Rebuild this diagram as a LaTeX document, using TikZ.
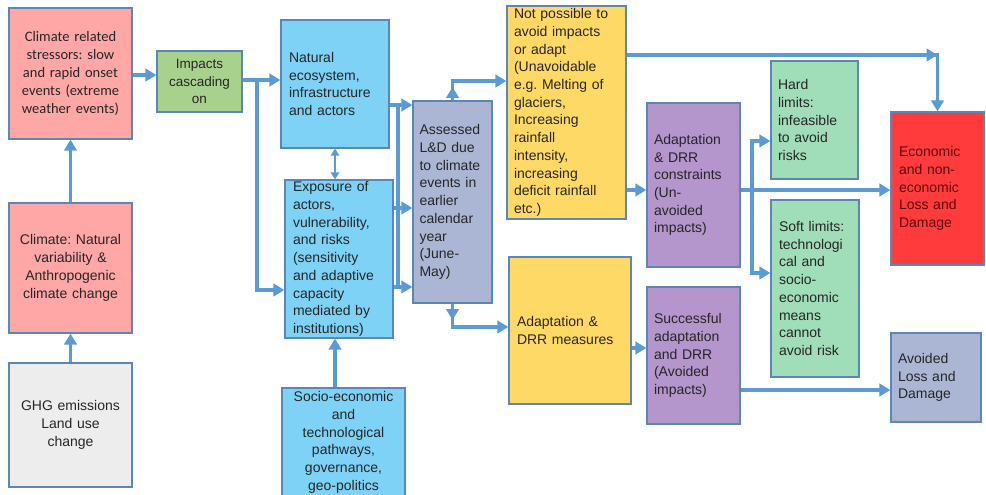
\documentclass[tikz,border=0pt]{standalone}
\usepackage{fontspec}
\setmainfont{Liberation Sans}
\newfontfamily\calibfont{Carlito}
\usetikzlibrary{arrows.meta}
\frenchspacing
\definecolor{pinkc}{HTML}{FFA7A7}
\definecolor{grayc}{HTML}{EDEDED}
\definecolor{greenc}{HTML}{A9D18E}
\definecolor{bluec}{HTML}{7DD2F5}
\definecolor{slatec}{HTML}{ABB6D5}
\definecolor{yellowc}{HTML}{FFD966}
\definecolor{purplec}{HTML}{B495CC}
\definecolor{mintc}{HTML}{A0DDB9}
\definecolor{redc}{HTML}{FF3B3B}
\definecolor{bordc}{HTML}{5B87B8}
\definecolor{arrc}{HTML}{5B9BD5}
\definecolor{txtc}{HTML}{262626}
\definecolor{darkred}{HTML}{5C0A0A}
\begin{document}
\frenchspacing
\begin{tikzpicture}[x=1pt,y=-1pt,
  box/.style={draw=bordc, line width=1.3pt, inner sep=0pt, text=txtc,
    font=\fontsize{14}{17.7}\selectfont},
  arr/.style={draw=arrc, line width=3.6pt, line join=miter, -{Triangle[length=11pt,width=12.5pt]}},
  ln/.style={draw=arrc, line width=3.6pt},
  arrthin/.style={draw=arrc, line width=2.2pt, {Triangle[length=7pt,width=8.5pt]}-{Triangle[length=7pt,width=8.5pt]}},
]
\useasboundingbox (0,0) rectangle (986,495);
\fill[white] (0,0) rectangle (986,495);

% nodes
\node[box, fill=pinkc, minimum width=123pt, minimum height=131pt, text width=115pt, align=center,
  font=\calibfont\fontsize{14.5}{18}\selectfont] (stress) at (70.5,73.5)
  {Climate related\\stressors: slow\\and rapid onset\\events (extreme\\weather events)};
\node[box, fill=pinkc, minimum width=123pt, minimum height=130pt, text width=115pt, align=center,
  font=\fontsize{14}{18}\selectfont] (climate) at (70.5,268)
  {Climate: Natural\\variability \&\\Anthropogenic\\climate change};
\node[box, fill=grayc, minimum width=123pt, minimum height=124pt, text width=115pt, align=center,
  font=\fontsize{14}{18}\selectfont] (ghg) at (70.5,425)
  {GHG emissions\\Land use\\change};
\node[box, fill=greenc, minimum width=85pt, minimum height=61pt, text width=80pt, align=center,
  font=\fontsize{13.5}{17.5}\selectfont] (impacts) at (199.5,81.5)
  {Impacts\\cascading\\on};
\node[box, fill=bluec, minimum width=108pt, minimum height=128pt, text width=92pt, align=left] (natural) at (335,84)
  {Natural\\ecosystem,\\infrastructure\\and actors};
\node[box, fill=bluec, minimum width=108pt, minimum height=158pt, text width=92pt, align=left] (exposure) at (339,259)
  {Exposure of\\actors,\\vulnerability,\\and risks\\(sensitivity\\and adaptive\\capacity\\mediated by\\institutions)};
\node[box, fill=bluec, minimum width=123pt, minimum height=109pt, text width=115pt, align=center] (socio) at (343.5,442.5)
  {Socio-economic\\and\\technological\\pathways,\\governance,\\geo-politics};
\node[box, fill=slatec, minimum width=79pt, minimum height=202pt, text width=66pt, align=left] (assessed) at (452.5,202)
  {Assessed\\L\&D due\\to climate\\events in\\earlier\\calendar\\year\\(June-\\May)};
\node[box, fill=yellowc, minimum width=119pt, minimum height=213pt, text width=105pt, align=left] (notposs) at (566.5,112.5)
  {Not possible to\\avoid impacts\\or adapt\\(Unavoidable\\e.g. Melting of\\glaciers,\\Increasing\\rainfall\\intensity,\\increasing\\deficit rainfall\\etc.)};
\node[box, fill=yellowc, minimum width=122pt, minimum height=147pt, text width=106pt, align=left] (adaptmeas) at (570,330.5)
  {Adaptation \&\\DRR measures};
\node[box, fill=purplec, minimum width=93pt, minimum height=164pt, text width=79pt, align=left] (constraints) at (693.5,185)
  {Adaptation\\\& DRR\\constraints\\(Un-\\avoided\\impacts)};
\node[box, fill=purplec, minimum width=93pt, minimum height=137pt, text width=79pt, align=left] (successful) at (693.5,355.5)
  {Successful\\adaptation\\and DRR\\(Avoided\\impacts)};
\node[box, fill=mintc, minimum width=87pt, minimum height=118pt, text width=73pt, align=left] (hard) at (814.5,120)
  {Hard\\limits:\\infeasible\\to avoid\\risks};
\node[box, fill=mintc, minimum width=88pt, minimum height=177pt, text width=72pt, align=left] (soft) at (815,288.5)
  {Soft limits:\\technologi\\cal and\\socio-\\economic\\means\\cannot\\avoid risk};
\node[box, fill=redc, text=darkred, minimum width=93pt, minimum height=153pt, text width=77pt, align=left] (economic) at (937.5,188.5)
  {Economic\\and non-\\economic\\Loss and\\Damage};
\node[box, fill=slatec, minimum width=90pt, minimum height=89pt, text width=76pt, align=left] (avoided) at (936,377.5)
  {Avoided\\Loss and\\Damage};

% helper coordinates
\coordinate (h75) at (0,75);
\coordinate (jA) at (257,80);
\coordinate (jB) at (257,290);
\coordinate (vx) at (335,0);
\coordinate (tTop) at (398,105);
\coordinate (tBot) at (398,287);
\coordinate (h208) at (0,208);
\coordinate (up1) at (452.5,81);
\coordinate (upTip) at (452.5,87);
\coordinate (dn1) at (452.5,327);
\coordinate (dnTip) at (452.5,320);
\coordinate (c1) at (937.5,55);
\coordinate (jC) at (752,190);
\coordinate (jD) at (752,141);
\coordinate (jE) at (752,273);
\coordinate (h348) at (0,348);
\coordinate (h390) at (0,390);

% connectors
\draw[arr] (climate.north) -- (stress.south);
\draw[arr] (ghg.north) -- (climate.south);
\draw[arr] (stress.east |- h75) -- (impacts.west |- h75);
\draw[arr] (impacts.east |- jA) -- (natural.west |- jA);
\draw[arr] (jA) -- (jB) -- (exposure.west |- jB);
\draw[arrthin] (vx |- natural.south) -- (vx |- exposure.north);
\draw[arr] (vx |- socio.north) -- (vx |- exposure.south);
\draw[arr] (natural.east |- tTop) -- (assessed.west |- tTop);
\draw[ln] (tTop) -- (tBot);
\draw[arr] (exposure.east |- h208) -- (assessed.west |- h208);
\draw[arr] (exposure.east |- tBot) -- (assessed.west |- tBot);
\draw[arr] (assessed.north) -- (upTip);
\draw[arr] (assessed.north) -- (up1) -- (notposs.west |- up1);
\draw[arr] (assessed.south) -- (dnTip);
\draw[arr] (assessed.south) -- (dn1) -- (adaptmeas.west |- dn1);
\draw[arr] (notposs.east |- c1) -- (c1);
\draw[arr] (notposs.east |- c1) -- (c1) -- (economic.north);
\draw[arr] (notposs.east |- jC) -- (constraints.west |- jC);
\draw[arr] (constraints.east |- jC) -- (economic.west |- jC);
\draw[arr] (jE) -- (jD) -- (hard.west |- jD);
\draw[arr] (jD) -- (jE) -- (soft.west |- jE);
\draw[arr] (adaptmeas.east |- h348) -- (successful.west |- h348);
\draw[arr] (successful.east |- h390) -- (avoided.west |- h390);
\end{tikzpicture}
\end{document}
